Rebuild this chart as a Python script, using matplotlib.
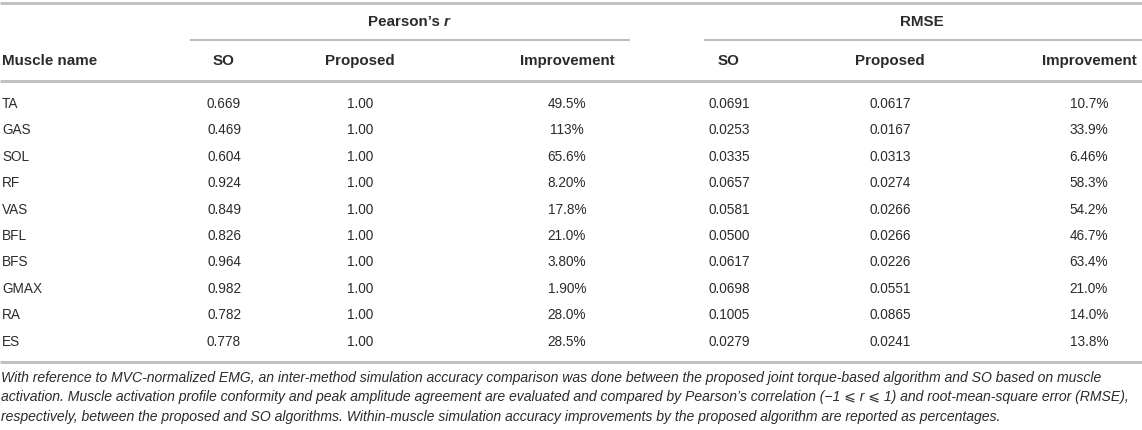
import numpy as np
import matplotlib
matplotlib.use('Agg')
import matplotlib.pyplot as plt

# table content
muscles = ['TA', 'GAS', 'SOL', 'RF', 'VAS', 'BFL', 'BFS', 'GMAX', 'RA', 'ES']
r_so = ['0.669', '0.469', '0.604', '0.924', '0.849', '0.826', '0.964', '0.982', '0.782', '0.778']
r_proposed = ['1.00'] * 10
r_improvement = ['49.5%', '113%', '65.6%', '8.20%', '17.8%', '21.0%', '3.80%', '1.90%', '28.0%', '28.5%']
rmse_so = ['0.0691', '0.0253', '0.0335', '0.0657', '0.0581', '0.0500', '0.0617', '0.0698', '0.1005', '0.0279']
rmse_proposed = ['0.0617', '0.0167', '0.0313', '0.0274', '0.0266', '0.0266', '0.0226', '0.0551', '0.0865', '0.0241']
rmse_improvement = ['10.7%', '33.9%', '6.46%', '58.3%', '54.2%', '46.7%', '63.4%', '21.0%', '14.0%', '13.8%']
sub_headers = ['SO', 'Proposed', 'Improvement']
footnote = [
    'With reference to MVC-normalized EMG, an inter-method simulation accuracy comparison was done between the '
    'proposed joint torque-based algorithm and SO based on muscle',
    'activation. Muscle activation profile conformity and peak amplitude agreement are evaluated and compared by '
    'Pearson\u2019s correlation (\u22121 \u2a7d r \u2a7d 1) and root-mean-square error (RMSE),',
    'respectively, between the proposed and SO algorithms. Within-muscle simulation accuracy improvements by the '
    'proposed algorithm are reported as percentages.',
]

W, H = 1142, 430
FONT = ['Liberation Sans', 'DejaVu Sans']
TXT = '#2b2b2b'
LINE = '#bdbdbd'

fig = plt.figure(figsize=(W / 100, H / 100), dpi=100)
ax = fig.add_axes([0, 0, 1, 1])
ax.set_xlim(0, W)
ax.set_ylim(H, 0)
ax.axis('off')

# layout (pixels)
col_x = [224, 360, 567, 729, 890, 1089]
row_y0, row_dy = 104, 26.4
fs, fs_head = 9.8, 10.9

def txt(x, y, s, ha='center', **kw):
    kw.setdefault('fontsize', fs)
    kw.setdefault('color', TXT)
    ax.text(x, y, s, ha=ha, va='center', family=FONT, **kw)

# rules
ax.hlines([3], 0, W, color=LINE, lw=2)
ax.hlines([40], 190, 630, color=LINE, lw=1.5)
ax.hlines([40], 704, W, color=LINE, lw=1.5)
ax.hlines([81], 0, W, color=LINE, lw=2)
rows_end = row_y0 + row_dy * (len(muscles) - 1)
ax.hlines([rows_end + 20], 0, W, color=LINE, lw=2)

# group headers
txt(444, 22, 'Pearson\u2019s ', ha='right', fontsize=fs_head, fontweight='bold')
txt(444, 22, 'r', ha='left', fontsize=fs_head, fontweight='bold', style='italic')
txt(922, 22, 'RMSE', fontsize=fs_head, fontweight='bold')

# column headers
txt(2, 61, 'Muscle name', ha='left', fontsize=fs_head, fontweight='bold')
for i, h in enumerate(sub_headers * 2):
    txt(col_x[i], 61, h, fontsize=fs_head, fontweight='bold')

# body
cols = [r_so, r_proposed, r_improvement, rmse_so, rmse_proposed, rmse_improvement]
for j, m in enumerate(muscles):
    y = row_y0 + j * row_dy
    txt(2, y, m, ha='left')
    for i, c in enumerate(cols):
        txt(col_x[i], y, c[j])

# footnote, fitted so the longest line spans the width
fn = []
for k, line in enumerate(footnote):
    fn.append(ax.text(1, rows_end + 36 + k * 19.5, line, ha='left', va='center',
                      family=FONT, style='italic', fontsize=10, color=TXT))
fig.canvas.draw()
w0 = max(t.get_window_extent().width for t in fn)
for t in fn:
    t.set_fontsize(10 * 1133 / w0)

fig.savefig('out.png', dpi=100, facecolor='white')
